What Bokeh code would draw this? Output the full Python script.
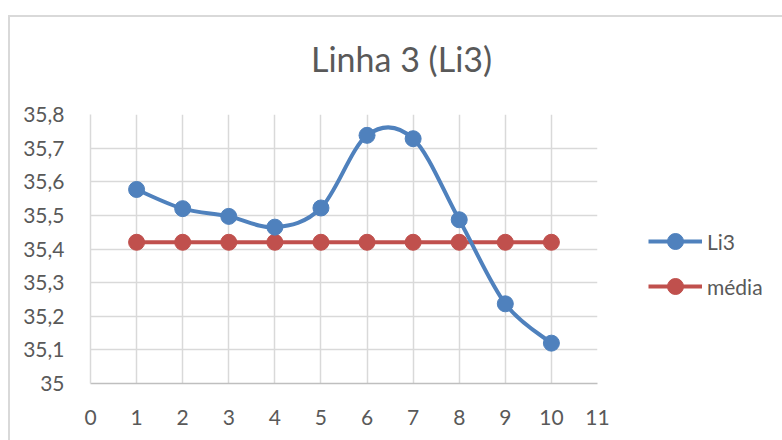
from bokeh.plotting import figure
from bokeh.layouts import column
from bokeh.models import (FixedTicker, CustomJSTickFormatter, Legend, LegendItem,
                          ColumnDataSource, Div)
from bokeh.embed import file_html
from bokeh.resources import INLINE

# Measurements along the line Li3 and their mean reference
positions = [1, 2, 3, 4, 5, 6, 7, 8, 9, 10]
li3 = [35.577, 35.520, 35.497, 35.465, 35.522, 35.738, 35.728, 35.487, 35.237, 35.120]
media = [35.42, 35.42, 35.42, 35.42, 35.42, 35.42, 35.42, 35.42, 35.42, 35.42]

x_ticks = [0, 1, 2, 3, 4, 5, 6, 7, 8, 9, 10, 11]
y_ticks = [35.0, 35.1, 35.2, 35.3, 35.4, 35.5, 35.6, 35.7, 35.8]

BLUE = "#4F81BD"
RED = "#C0504D"
GRID = "#D9D9D9"
TEXT = "#595959"
FONT = "Lato"


def smooth_segments(xs, ys):
    """Cubic Bezier pieces through the points (Catmull-Rom style smoothing)."""
    n = len(xs)
    seg = dict(x0=[], y0=[], x1=[], y1=[], cx0=[], cy0=[], cx1=[], cy1=[])
    for i in range(n - 1):
        xp, yp = (xs[i - 1], ys[i - 1]) if i > 0 else (xs[i], ys[i])
        xn, yn = (xs[i + 2], ys[i + 2]) if i + 2 < n else (xs[i + 1], ys[i + 1])
        seg["x0"].append(xs[i]); seg["y0"].append(ys[i])
        seg["x1"].append(xs[i + 1]); seg["y1"].append(ys[i + 1])
        seg["cx0"].append(xs[i] + (xs[i + 1] - xp) / 6)
        seg["cy0"].append(ys[i] + (ys[i + 1] - yp) / 6)
        seg["cx1"].append(xs[i + 1] - (xn - xs[i]) / 6)
        seg["cy1"].append(ys[i + 1] - (yn - ys[i]) / 6)
    return seg


# chart title, set above the plot
heading = Div(text="Linha 3 (Li3)", width=772, height=67,
              styles={"font-family": FONT, "font-size": "34px", "color": TEXT,
                      "line-height": "40px", "padding-top": "17px",
                      "padding-left": "296px", "white-space": "nowrap"})

p = figure(output_backend="svg", toolbar_location=None,
           x_range=(0, 11), y_range=(35.0, 35.8),
           frame_width=507, frame_height=269,
           min_border_left=80, min_border_right=190,
           min_border_top=20, min_border_bottom=70)
p.outline_line_color = None
p.background_fill_color = "white"
p.border_fill_color = "white"

# grid
for g in (p.xgrid, p.ygrid):
    g.grid_line_color = GRID
    g.grid_line_width = 1.5
p.xaxis.ticker = FixedTicker(ticks=x_ticks)
p.yaxis.ticker = FixedTicker(ticks=y_ticks)
p.yaxis.formatter = CustomJSTickFormatter(
    code="return (Math.round(tick * 10) / 10).toString().replace('.', ',');")

for ax in (p.xaxis, p.yaxis):
    ax.major_tick_line_color = None
    ax.minor_tick_line_color = None
    ax.major_label_text_font = FONT
    ax.major_label_text_font_size = "21px"
    ax.major_label_text_color = TEXT
    ax.axis_line_width = 1.5
p.xaxis.axis_line_color = "#BFBFBF"
p.yaxis.axis_line_color = GRID
p.xaxis.major_label_standoff = 20
p.yaxis.major_label_standoff = 20

# mean line
r_med_line = p.line(positions, media, line_color=RED, line_width=4)
r_med_pts = p.scatter(positions, media, size=16, fill_color=RED, line_color=RED)

# smoothed Li3 line
src = ColumnDataSource(smooth_segments(positions, li3))
r_li3_line = p.bezier(x0="x0", y0="y0", x1="x1", y1="y1", cx0="cx0", cy0="cy0",
                      cx1="cx1", cy1="cy1", source=src, line_color=BLUE,
                      line_width=4, line_cap="round")
r_li3_pts = p.scatter(positions, li3, size=16, fill_color=BLUE, line_color=BLUE)

# legend entries use straight line + marker samples
leg_li3 = p.line([0, 1], [0, 0], line_color=BLUE, line_width=4, visible=False)
leg_med = p.line([0, 1], [0, 0], line_color=RED, line_width=4, visible=False)
legend = Legend(items=[LegendItem(label="Li3", renderers=[leg_li3, r_li3_pts]),
                       LegendItem(label="média", renderers=[leg_med, r_med_pts])],
                location=(51, 77), orientation="vertical",
                glyph_width=54, glyph_height=40, label_height=40,
                label_standoff=5, spacing=5, padding=0, margin=0,
                border_line_color=None, background_fill_alpha=0,
                label_text_font=FONT, label_text_font_size="21px",
                label_text_color=TEXT)
p.add_layout(legend, "right")

# the whole chart sits inside a light frame (left/top edges visible)
chart = column(heading, p, spacing=0,
               styles={"margin-left": "8px", "margin-top": "15px",
                       "border-left": "2px solid #D9D9D9",
                       "border-top": "2px solid #D9D9D9",
                       "background-color": "white"})

open("out.html", "w").write(file_html(chart, INLINE))
